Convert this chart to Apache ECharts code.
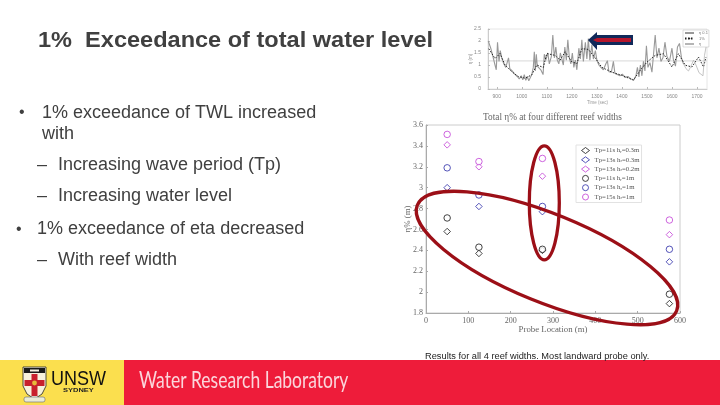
<!DOCTYPE html>
<html><head><meta charset="utf-8">
<style>html,body{margin:0;padding:0;background:#fff}#c{width:720px;height:405px}</style>
<script src="https://cdn.jsdelivr.net/npm/echarts@6/dist/echarts.min.js"></script>
</head><body><div id="c"></div>
<script>
// ---- main scatter chart data ----
const probeLocation = [50, 125, 275, 575];
const seriesNames = ['Tp=11s hr=0.3m','Tp=13s hr=0.3m','Tp=13s hr=0.2m','Tp=11s hr=1m','Tp=13s hr=1m','Tp=15s hr=1m'];
const tp11Low = [2.58, 2.37, 2.40, 1.89];
const tp13Low = [3.00, 2.82, 2.77, 2.29];
const tp15Low = [3.41, 3.20, 3.11, 2.55];
const tp11High = [2.71, 2.43, 2.41, 1.98];
const tp13High = [3.19, 2.93, 2.82, 2.41];
const tp15High = [3.51, 3.25, 3.28, 2.69];
// ---- inset time-series data ----
const timeTicks = [900,1000,1100,1200,1300,1400,1500,1600,1700];
const etaSpiky = [[866,2.0],[876,1.7],[886,1.3],[893,1.0],[898,0.8],[903,1.95],[909,1.15],[914,1.6],[920,1.3],[928,1.05],[936,0.9],[943,0.85],[947,1.3],[952,0.85],[962,0.75],[972,0.62],[982,0.52],[990,0.42],[998,0.55],[1004,0.38],[1010,0.6],[1016,0.36],[1022,0.52],[1028,0.34],[1034,0.42],[1040,0.6],[1046,0.9],[1050,1.55],[1054,0.75],[1058,1.45],[1062,0.95],[1068,1.0],[1076,0.8],[1085,0.6],[1090,1.45],[1096,1.2],[1104,1.5],[1110,1.05],[1118,1.35],[1124,2.25],[1130,1.3],[1136,1.75],[1142,1.2],[1148,1.05],[1154,1.5],[1160,1.25],[1166,1.0],[1172,1.75],[1178,1.2],[1184,2.05],[1190,1.3],[1196,1.05],[1202,1.5],[1208,0.9],[1214,1.2],[1220,0.8],[1228,1.7],[1234,1.25],[1240,2.05],[1246,1.15],[1254,1.95],[1260,1.25],[1266,2.1],[1272,1.2],[1280,1.85],[1286,1.25],[1294,1.6],[1300,1.2],[1308,1.0],[1316,0.9],[1326,0.8],[1336,1.05],[1342,1.18],[1348,0.72],[1358,0.7],[1366,1.15],[1372,0.65],[1382,0.6],[1392,0.55],[1402,0.62],[1412,0.48],[1424,0.52],[1436,0.42],[1448,0.38],[1456,0.55],[1462,0.9],[1468,0.5],[1474,1.0],[1480,0.55],[1486,1.15],[1492,0.75],[1498,1.8],[1504,0.9],[1512,1.1],[1520,0.7],[1526,1.4],[1533,2.25],[1540,1.3],[1548,1.7],[1556,1.15],[1564,1.3],[1572,1.95],[1580,1.35],[1590,1.15],[1600,1.7],[1606,1.2],[1614,0.95],[1622,1.75],[1630,1.9],[1638,1.3],[1646,1.05]];
const etaThin = [[1646,1.05],[1656,0.85],[1666,0.75],[1676,0.95],[1686,1.2],[1696,1.0],[1708,0.68],[1724,0.55],[1730,1.4],[1738,1.85]];
const onePercent = [[868,1.68],[893,1.27],[913,1.48],[933,1.0],[960,0.72],[986,0.52],[1013,0.45],[1040,0.59],[1060,1.0],[1086,0.9],[1100,1.48],[1133,1.4],[1153,1.2],[1173,1.55],[1200,1.13],[1220,1.06],[1240,1.68],[1266,1.65],[1293,1.3],[1320,0.9],[1360,0.7],[1400,0.57],[1446,0.37],[1473,0.78],[1500,1.12],[1533,1.4],[1566,1.47],[1600,0.92],[1626,1.47],[1653,0.99],[1680,0.92],[1706,1.33],[1726,0.92],[1736,1.33]];
const stillWater = [[865,1.17],[1740,1.17]];
const etaName = ['η 0.1','1%','η'];

const black = '#151515', blue = '#2a2aa8', magenta = '#c23fd6', ink = '#404040', serif = '"Liberation Serif"', sans = '"Liberation Sans"';
const pairs = (ys) => probeLocation.map((x, i) => [x, ys[i]]);
const scatter = (name, ys, symbol, color) => ({
  name, type: 'scatter', data: pairs(ys), symbol, symbolSize: 6.5, xAxisIndex: 0, yAxisIndex: 0,
  itemStyle: { color: '#fff', borderColor: color, borderWidth: 1 }
});
const text = (x, y, t, size, extra, scaleX) => ({ type: 'text', x, y, scaleX: scaleX || 1, z: 50, style: Object.assign({ text: t, fill: ink, font: size + 'px ' + sans, textVerticalAlign: 'middle' }, extra || {}) });

const chart = echarts.init(document.getElementById('c'), null, { renderer: 'canvas' });
chart.setOption({
  animation: false,
  backgroundColor: '#fff',
  title: [{
    text: 'Total η% at four different reef widths', left: 478, top: 108,
    textStyle: { fontFamily: serif, fontSize: 9.3, fontWeight: 'normal', color: '#666' }
  }],
  grid: [
    { left: 426, top: 125, width: 254, height: 188, show: true, borderColor: '#ccc', borderWidth: 1, backgroundColor: 'transparent' },
    { left: 488, top: 29, width: 219, height: 60, show: true, borderColor: '#e6e6e6', borderWidth: 1, backgroundColor: 'transparent' }
  ],
  legend: [
    {
      data: seriesNames, orient: 'vertical', left: 576, top: 145, width: 64, padding: [2, 2, 2, 5],
      itemWidth: 8, itemHeight: 6, itemGap: 2.3, borderColor: '#e2e2e2', borderWidth: 1, backgroundColor: '#fff', z: 20,
      itemStyle: { borderWidth: 1 },
      formatter: (n) => n.replace('hr=', 'h{s|r}='),
      textStyle: { fontFamily: serif, fontSize: 6.8, color: '#555', rich: { s: { fontSize: 4.5, verticalAlign: 'bottom', fontFamily: serif, color: '#555' } } }
    },
    {
      data: etaName, orient: 'vertical', left: 683, top: 30, padding: 1, itemWidth: 9, itemHeight: 2, itemGap: 1.5,
      borderColor: '#bbb', borderWidth: 0.5, backgroundColor: '#fff', z: 20,
      textStyle: { fontFamily: sans, fontSize: 4, color: '#777' }
    }
  ],
  xAxis: [
    {
      gridIndex: 0, type: 'value', min: 0, max: 600, interval: 100, name: 'Probe Location (m)', nameLocation: 'middle', nameGap: 12, nameMoveOverlap: false,
      nameTextStyle: { fontFamily: serif, fontSize: 8.8, color: '#666' },
      axisLine: { lineStyle: { color: '#aaa' } }, axisTick: { inside: true, length: 2, lineStyle: { color: '#aaa' } }, splitLine: { show: false },
      axisLabel: { fontFamily: serif, fontSize: 8, color: '#666', margin: 4 }
    },
    {
      gridIndex: 1, type: 'value', min: 865, max: 1740, name: 'Time (sec)', nameLocation: 'middle', nameGap: 11, nameMoveOverlap: false,
      nameTextStyle: { fontFamily: sans, fontSize: 4.5, color: '#999' },
      axisLine: { lineStyle: { color: '#ccc' } },
      axisTick: { inside: true, length: 2, customValues: timeTicks, lineStyle: { color: '#bbb' } },
      splitLine: { show: false },
      axisLabel: { customValues: timeTicks, formatter: (v) => String(v), fontFamily: sans, fontSize: 5, color: '#888', margin: 5 }
    }
  ],
  yAxis: [
    {
      gridIndex: 0, type: 'value', min: 1.8, max: 3.6, interval: 0.2, name: 'η% (m)', nameLocation: 'middle', nameGap: 14, nameMoveOverlap: false,
      nameTextStyle: { fontFamily: serif, fontSize: 8.8, color: '#666' },
      axisLine: { lineStyle: { color: '#aaa' } }, axisTick: { inside: true, length: 2, lineStyle: { color: '#aaa' } }, splitLine: { show: false },
      axisLabel: { fontFamily: serif, fontSize: 8, color: '#666', margin: 3, formatter: (v) => String(+v.toFixed(1)) }
    },
    {
      gridIndex: 1, type: 'value', min: 0, max: 2.5, interval: 0.5, name: 'η (m)', nameLocation: 'middle', nameGap: 15, nameMoveOverlap: false,
      nameTextStyle: { fontFamily: sans, fontSize: 4.5, color: '#999' },
      axisLine: { lineStyle: { color: '#ccc' } }, axisTick: { inside: true, length: 2, lineStyle: { color: '#bbb' } }, splitLine: { show: false },
      axisLabel: { fontFamily: sans, fontSize: 5, color: '#888', margin: 7 }
    }
  ],
  series: [
    scatter(seriesNames[0], tp11Low, 'diamond', black),
    scatter(seriesNames[1], tp13Low, 'diamond', blue),
    scatter(seriesNames[2], tp15Low, 'diamond', magenta),
    scatter(seriesNames[3], tp11High, 'circle', black),
    scatter(seriesNames[4], tp13High, 'circle', blue),
    scatter(seriesNames[5], tp15High, 'circle', magenta),
    { name: 'still', type: 'line', xAxisIndex: 1, yAxisIndex: 1, data: stillWater, symbol: 'none', lineStyle: { color: '#cfcfcf', width: 0.8 } },
    { name: etaName[0], type: 'line', xAxisIndex: 1, yAxisIndex: 1, data: etaSpiky, symbol: 'none', lineStyle: { color: '#999', width: 1.1 }, itemStyle: { color: '#999' } },
    { name: etaName[1], type: 'line', xAxisIndex: 1, yAxisIndex: 1, data: onePercent, symbol: 'none', lineStyle: { color: '#222', width: 1, type: [1.5, 1.5] }, itemStyle: { color: '#222' } },
    { name: etaName[2], type: 'line', xAxisIndex: 1, yAxisIndex: 1, data: etaThin, symbol: 'none', lineStyle: { color: '#b5b5b5', width: 0.8 }, itemStyle: { color: '#b5b5b5' } }
  ],
  graphic: [
    // footer band
    { type: 'rect', z: 1, shape: { x: 0, y: 360, width: 124, height: 45 }, style: { fill: '#fbdf4e' } },
    { type: 'rect', z: 1, shape: { x: 124, y: 360, width: 596, height: 45 }, style: { fill: '#ee1c3a' } },
    // crest
    { type: 'polygon', z: 2, shape: { points: [[23, 367], [46, 367], [46, 386], [42, 394], [34.5, 399], [27, 394], [23, 386]] }, style: { fill: '#f7f1dc', stroke: '#222', lineWidth: 0.8 } },
    { type: 'rect', z: 3, shape: { x: 24, y: 368, width: 21, height: 5 }, style: { fill: '#1a1a1a' } },
    { type: 'rect', z: 4, shape: { x: 30, y: 369.5, width: 9, height: 2 }, style: { fill: '#f4f0e0' } },
    { type: 'rect', z: 3, shape: { x: 31.5, y: 374, width: 6, height: 22 }, style: { fill: '#c8202d' } },
    { type: 'rect', z: 3, shape: { x: 24.5, y: 380, width: 20, height: 6 }, style: { fill: '#c8202d' } },
    { type: 'circle', z: 4, shape: { cx: 34.5, cy: 383, r: 2.4 }, style: { fill: '#e6b93a' } },
    { type: 'rect', z: 2, shape: { x: 24, y: 397, width: 21, height: 5, r: 2 }, style: { fill: '#e9ecd8', stroke: '#667', lineWidth: 0.6 } },
    text(51, 379.5, 'UNSW', 20, { fill: '#111', font: '20px ' + sans }, 0.9),
    text(63, 390.5, 'SYDNEY', 5, { fill: '#222', font: 'bold 5px ' + sans }, 1.5),
    text(139, 380.5, 'Water Research Laboratory', 23, { fill: '#fbd6dc', font: '23px Lato' }, 0.76),
    // slide text
    text(38, 41, '1%  Exceedance of total water level', 22, { font: 'bold 22px ' + sans }, 1.07),
    text(19, 113, '•', 16),
    text(42, 113, '1% exceedance of TWL increased', 18),
    text(42, 134, 'with', 18),
    text(37, 165, '–', 18),
    text(58, 165, 'Increasing wave period (Tp)', 18),
    text(37, 196, '–', 18),
    text(58, 196, 'Increasing water level', 18),
    text(16, 229.5, '•', 16),
    text(37, 229.5, '1% exceedance of eta decreased', 18),
    text(37, 260, '–', 18),
    text(58, 260, 'With reef width', 18),
    text(425, 357, 'Results for all 4 reef widths. Most landward probe only.', 8.5, { fill: '#222', font: '8.5px ' + sans }, 1.09),
    // annotation ellipses
    { type: 'ellipse', z: 60, x: 544.3, y: 202.8, shape: { cx: 0, cy: 0, rx: 15, ry: 57 }, style: { fill: 'none', stroke: '#9c0f17', lineWidth: 3.3 } },
    { type: 'ellipse', z: 60, x: 547, y: 258, rotation: -0.387, shape: { cx: 0, cy: 0, rx: 140, ry: 44 }, style: { fill: 'none', stroke: '#9c0f17', lineWidth: 3.3 } },
    // arrow
    { type: 'polygon', z: 60, shape: { points: [[588, 40], [597, 32], [597, 35], [633, 35], [633, 45], [597, 45], [597, 50]] }, style: { fill: '#10295a' } },
    { type: 'polygon', z: 61, shape: { points: [[593, 40], [597, 38], [631, 38], [631, 42], [597, 42]] }, style: { fill: '#b5162c' } }
  ]
});
</script></body></html>
